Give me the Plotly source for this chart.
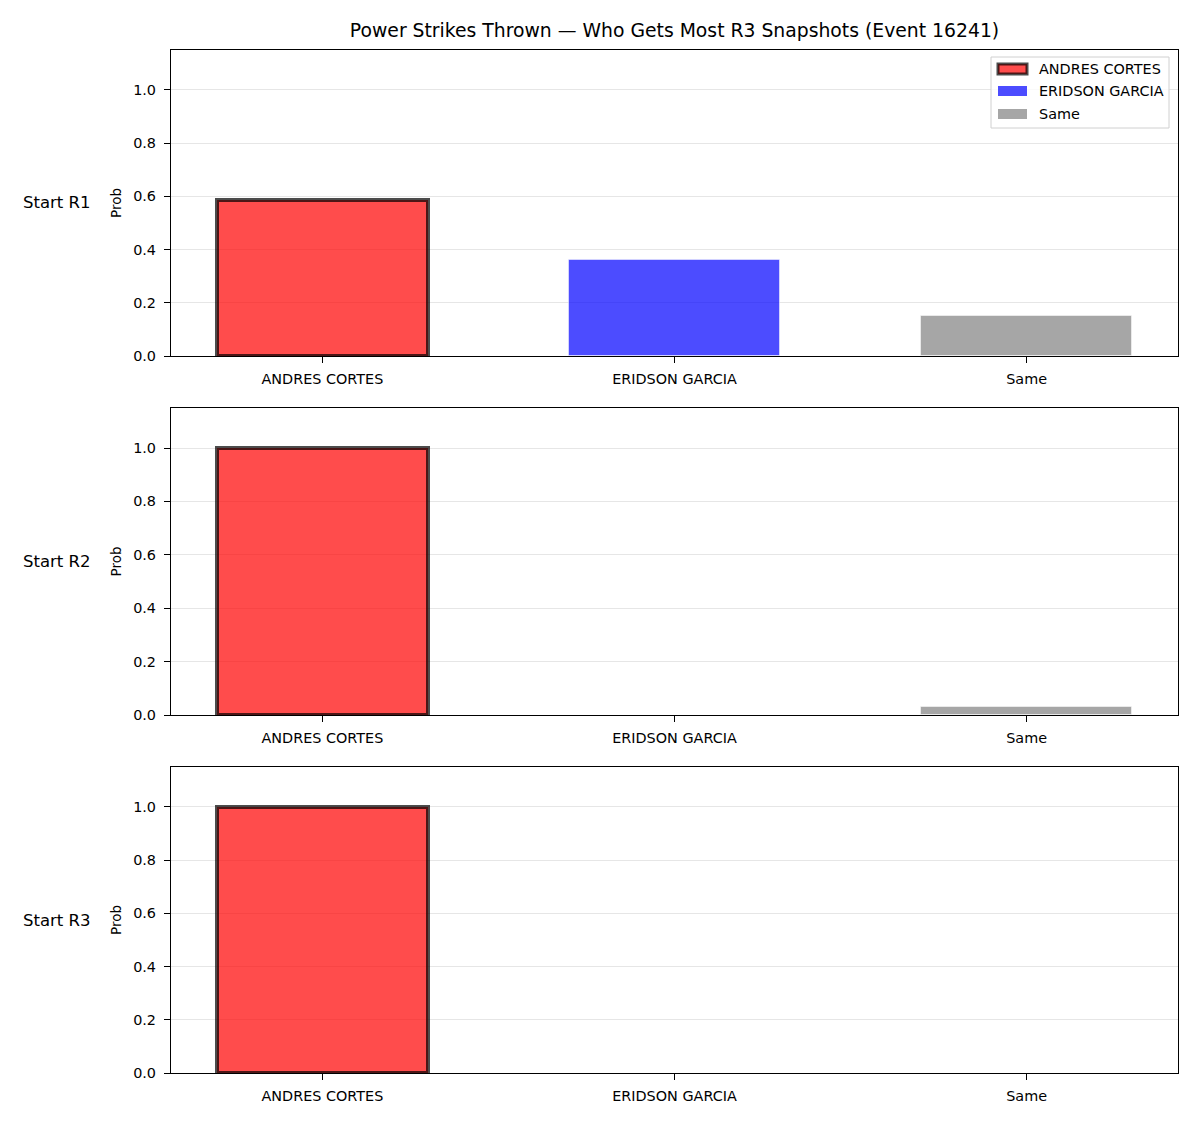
import plotly.graph_objects as go

categories = ["ANDRES CORTES", "ERIDSON GARCIA", "Same"]
row_labels = ["Start R1", "Start R2", "Start R3"]
andres = [0.585, 1.0, 1.0]
eridson = [0.36, 0.0, 0.0]
same = [0.15, 0.03, 0.0]
yticks = [0.0, 0.2, 0.4, 0.6, 0.8, 1.0]
title = "Power Strikes Thrown — Who Gets Most R3 Snapshots (Event 16241)"

FONT = "DejaVu Sans"
TICK = 14.4
colors = ["rgba(255,0,0,0.7)", "rgba(0,0,255,0.7)", "rgba(128,128,128,0.7)"]
edge_dark = dict(color="rgba(0,0,0,0.7)", width=4)
edge_light = dict(color="rgba(255,255,255,0.5)", width=1)
series = [
    (categories[0], andres, colors[0], edge_dark),
    (categories[1], eridson, colors[1], edge_light),
    (categories[2], same, colors[2], edge_light),
]

# plot area in pixels
L, R, T, B = 171, 1178, 50, 1073
def px(x):
    return (x - L) / (R - L)
def py(y):
    return (B - y) / (B - T)

domains = [[py(356), 1.0], [py(715), py(408)], [0.0, py(767)]]

fig = go.Figure()
for r in range(3):
    ax = "" if r == 0 else str(r + 1)
    for name, vals, col, line in series:
        fig.add_trace(go.Bar(
            x=[name], y=[vals[r]], name=name, width=0.6,
            marker=dict(color=col, line=line if vals[r] > 0 else dict(width=0)),
            showlegend=False,
            xaxis="x" + ax, yaxis="y" + ax,
        ))
    common = dict(showline=True, linecolor="black", linewidth=1.2, mirror=True,
                  ticks="outside", ticklen=6, tickcolor="black", tickwidth=1.2,
                  tickfont=dict(family=FONT, size=TICK, color="black"))
    fig.update_layout(**{
        "xaxis" + ax: dict(domain=[0, 1], anchor="y" + ax, type="category",
                           categoryorder="array", categoryarray=categories,
                           range=[-0.43, 2.43], showgrid=False,
                           ticklabelstandoff=4, **common),
        "yaxis" + ax: dict(domain=domains[r], anchor="x" + ax, range=[0, 1.15],
                           tickvals=yticks, tickformat=".1f", showgrid=True,
                           gridcolor="#e6e6e6", gridwidth=1, zeroline=False,
                           ticklabelstandoff=5,
                           title=dict(text="Prob", font=dict(family=FONT, size=13.5, color="black"),
                                      standoff=8),
                           **common),
    })
    yc = (domains[r][0] + domains[r][1]) / 2
    fig.add_annotation(text=row_labels[r], xref="paper", yref="paper",
                       x=px(57), y=yc, xanchor="center", yanchor="middle",
                       showarrow=False, font=dict(family=FONT, size=16.5, color="black"))

# custom legend (matplotlib-style wide patches)
fig.add_shape(type="rect", xref="paper", yref="paper",
              x0=px(991), x1=px(1169), y0=py(128), y1=py(57),
              line=dict(color="#d0d0d0", width=1), fillcolor="rgba(255,255,255,0.8)")
leg_y = [69, 91, 114]
for i, name in enumerate(categories):
    line = dict(color="rgba(0,0,0,0.7)", width=3) if i == 0 else dict(width=0)
    fig.add_shape(type="rect", xref="paper", yref="paper",
                  x0=px(998), x1=px(1027), y0=py(leg_y[i] + 5), y1=py(leg_y[i] - 5),
                  line=line, fillcolor=colors[i])
    fig.add_annotation(text=name, xref="paper", yref="paper",
                       x=px(1037), y=py(leg_y[i]), xanchor="left", yanchor="middle",
                       showarrow=False, font=dict(family=FONT, size=TICK, color="black"))

fig.update_layout(
    width=1200, height=1125,
    margin=dict(l=L, r=1200 - R, t=T, b=1125 - B),
    barmode="overlay", bargap=0, showlegend=False,
    plot_bgcolor="white", paper_bgcolor="white",
    font=dict(family=FONT, color="black"),
    title=dict(text=title, x=0.5, xref="paper", y=1 - 30 / 1125, yref="container",
               xanchor="center", yanchor="middle",
               font=dict(family=FONT, size=18.8, color="black")),
)

fig.write_html("out.html")
